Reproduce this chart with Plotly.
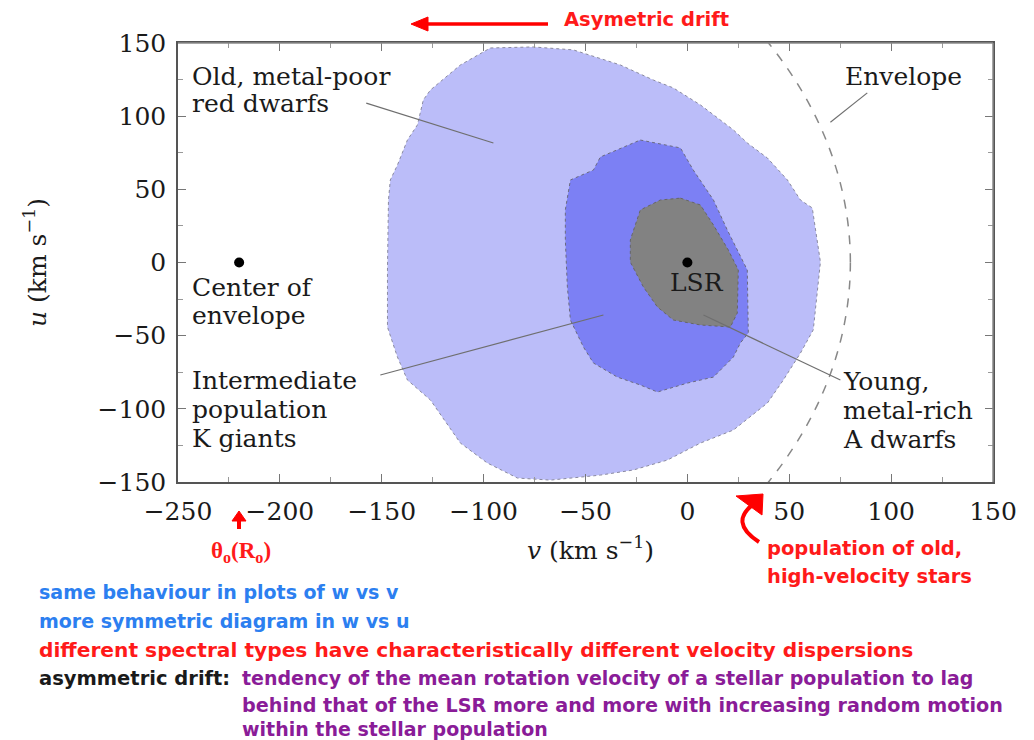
import plotly.graph_objects as go

# ---------------- data (v, u in km/s) ----------------
outer_v = [-96.7, -75.6, -56.0, -32.9, -16.7, -6.9, 6.4, 22.6, 29.4, 39.3, 49.1, 55.5, 61.3, 63.8, 65.3,
           61.8, 55.5, 47.1, 39.3, 22.6, 6.4, -9.8, -26.5, -42.7, -67.2, -83.4, -98.2, -111.4, -122.7,
           -126.1, -137.4, -142.3, -147.2, -147.2, -146.7, -145.8, -142.3, -137.4, -132.5, -129.6, -126.1,
           -111.4, -96.7]
outer_u = [146.6, 147.3, 145.3, 135.0, 124.7, 119.3, 107.7, 90.6, 81.7, 71.4, 56.4, 42.7, 37.3, 15.4, 0.3,
           -46.0, -61.9, -80.3, -96.0, -114.5, -123.4, -135.0, -141.8, -145.3, -148.7, -147.3, -137.0, -123.4,
           -100.8, -94.0, -80.3, -64.6, -44.1, -5.1, 42.7, 56.4, 66.6, 83.7, 94.0, 111.1, 117.9, 135.0, 146.6]

mid_v = [-23.1, -3.4, 2.9, 12.8, 19.6, 29.4, 29.9, 26.0, 22.6, 12.8, 0.0, -14.7, -23.1, -34.4, -46.1,
         -51.0, -57.4, -58.9, -59.9, -59.9, -57.4, -46.1, -42.7, -23.1]
mid_u = [83.7, 78.3, 63.2, 42.7, 22.2, -5.1, -48.2, -55.0, -64.6, -78.3, -82.4, -88.5, -83.7, -78.3, -68.7,
         -57.8, -39.3, -16.7, 15.4, 35.9, 56.4, 63.2, 72.1, 83.7]

inner_v = [-3.4, 6.4, 12.8, 20.1, 25.0, 24.5, 21.1, 6.4, -6.9, -14.7, -21.6, -28.0, -28.0, -23.1, -13.3, -3.4]
inner_u = [44.0, 39.3, 25.6, 8.5, -5.1, -34.5, -44.1, -42.7, -39.3, -30.4, -16.7, 0.3, 15.4, 35.9, 42.7, 44.0]

dot_v = [-220, 0]          # centre of envelope, LSR
dot_u = [0, 0]

envelope_center_v = -220
envelope_center_u = 0
envelope_radius = 300

# leader lines: (v0, u0, v1, u1)
leader_lines = [
    (-157.6, 108.9, -95.2, 81.7),     # old metal-poor red dwarfs
    (88.3, 115.9, 70.2, 95.9),        # envelope
    (-150.7, -76.9, -41.2, -35.9),    # intermediate population
    (75.1, -80.3, 7.9, -35.9),        # young metal-rich A dwarfs
]

x_ticks = [-250, -200, -150, -100, -50, 0, 50, 100, 150]
y_ticks = [-150, -100, -50, 0, 50, 100, 150]

# ---------------- layout geometry ----------------
W, H = 1034, 740
L, R, T, B = 178, 993, 43, 482


def pxx(x):
    return (x - L) / (R - L)


def pxy(y):
    return (B - y) / (B - T)


SERIF = "DejaVu Serif"
COMIC = "DejaVu Sans"
NOTE = 19.5

fig = go.Figure()

fig.add_trace(go.Scatter(x=outer_v, y=outer_u, fill="toself", mode="lines",
                         fillcolor="#BBBDF9", line=dict(color="#8a8aa0", width=1, dash="dot"),
                         hoverinfo="skip", showlegend=False))
fig.add_trace(go.Scatter(x=mid_v, y=mid_u, fill="toself", mode="lines",
                         fillcolor="#7C80F4", line=dict(color="#6a6a80", width=1, dash="dot"),
                         hoverinfo="skip", showlegend=False))
fig.add_trace(go.Scatter(x=inner_v, y=inner_u, fill="toself", mode="lines",
                         fillcolor="#828282", line=dict(color="#666666", width=1, dash="dot"),
                         hoverinfo="skip", showlegend=False))
fig.add_trace(go.Scatter(x=dot_v, y=dot_u, mode="markers",
                         marker=dict(color="black", size=10), hoverinfo="skip", showlegend=False))

shapes = []
shapes.append(dict(type="circle", xref="x", yref="y",
                   x0=envelope_center_v - envelope_radius, x1=envelope_center_v + envelope_radius,
                   y0=envelope_center_u - envelope_radius, y1=envelope_center_u + envelope_radius,
                   line=dict(color="#888888", width=1.5, dash="dash")))
for v0, u0, v1, u1 in leader_lines:
    shapes.append(dict(type="line", xref="x", yref="y", x0=v0, y0=u0, x1=v1, y1=u1,
                       line=dict(color="#6f6f6f", width=1.2)))

# lighter top/right frame lines like the reference
shapes.append(dict(type="line", xref="paper", yref="paper", x0=0, y0=1, x1=1, y1=1,
                   line=dict(color="#8a8a8a", width=1.5)))
shapes.append(dict(type="line", xref="paper", yref="paper", x0=1, y0=0, x1=1, y1=1,
                   line=dict(color="#8a8a8a", width=1.5)))

RED_ARROW = "#FF0000"


def pshape(path, fill=None, width=4):
    d = dict(type="path", xref="paper", yref="paper", path=path,
             line=dict(color=RED_ARROW, width=width))
    if fill:
        d["fillcolor"] = fill
    shapes.append(d)


def P(x, y):
    return f"{pxx(x)},{pxy(y)}"


# curved red arrow (population of old high-velocity stars)
pshape(f"M {P(759, 542)} Q {P(728, 522)} {P(755, 503)}")
pshape(f"M {P(736, 496)} L {P(763, 494)} L {P(762, 515)} Z", fill=RED_ARROW, width=1)

# top arrow (asymmetric drift)
pshape(f"M {P(548, 24)} L {P(425, 24)}", width=3.5)
pshape(f"M {P(411, 24)} L {P(428, 17)} L {P(428, 31)} Z", fill=RED_ARROW, width=1)

# theta arrow
pshape(f"M {P(239, 529)} L {P(239, 518)}", width=4)
pshape(f"M {P(239, 511)} L {P(232, 521)} L {P(246, 521)} Z", fill=RED_ARROW, width=1)

annotations = []


def txt(x, y, s, size, color="#1a1a1a", family=SERIF, xanchor="left"):
    annotations.append(dict(x=pxx(x), y=pxy(y), xref="paper", yref="paper", text=s,
                            showarrow=False, xanchor=xanchor, yanchor="middle",
                            font=dict(family=family, size=size, color=color)))


# in-plot labels (pixel positions)
label_size = 25
for s, y in [("Old, metal-poor", 76), ("red dwarfs", 104)]:
    txt(190, y, s, label_size)
txt(843, 76, "Envelope", label_size)
for s, y in [("Center of", 287), ("envelope", 315)]:
    txt(190, y, s, label_size)
txt(697, 282, "LSR", label_size, xanchor="center")
for s, y in [("Intermediate", 380), ("population", 409), ("K giants", 438)]:
    txt(190, y, s, label_size)
for s, y in [("Young,", 381), ("metal-rich", 410), ("A dwarfs", 439)]:
    txt(841, y, s, label_size)

# axis titles
txt(590, 548, "<i>v</i> (km s<sup>−1</sup>)", 25, xanchor="center")
annotations.append(dict(x=pxx(35), y=pxy(263), xref="paper", yref="paper",
                        text="<i>u</i> (km s<sup>−1</sup>)", showarrow=False, textangle=-90,
                        xanchor="center", yanchor="middle",
                        font=dict(family=SERIF, size=25, color="#1a1a1a")))

RED = "#FF1A1A"
BLUE = "#2C7FF0"
PURPLE = "#8A1C98"

txt(562, 20, "<b>Asymetric drift</b>", NOTE, color=RED, family=COMIC)
txt(241, 552, "<b>θ<sub>o</sub>(R<sub>o</sub>)</b>", 23, color=RED, family="Liberation Serif",
    xanchor="center")

# population of old stars
txt(765, 548, "<b>population of old,</b>", NOTE, color=RED, family=COMIC)
txt(765, 576, "<b>high-velocity stars</b>", NOTE, color=RED, family=COMIC)

# bottom notes
txt(37, 592, "<b>same behaviour in plots of w vs v</b>", 19, color=BLUE, family=COMIC)
txt(37, 621, "<b>more symmetric diagram in w vs u</b>", 19, color=BLUE, family=COMIC)
txt(37, 650, "<b>different spectral types have characteristically different velocity dispersions</b>",
    20.2, color=RED, family=COMIC)
txt(37, 678, "<b>asymmetric drift:</b>", NOTE, color="#1a1a1a", family=COMIC)
txt(240, 678, "<b>tendency of the mean rotation velocity of a stellar population to lag</b>",
    19, color=PURPLE, family=COMIC)
txt(240, 705, "<b>behind that of the LSR more and more with increasing random motion</b>",
    19.2, color=PURPLE, family=COMIC)
txt(240, 729, "<b>within the stellar population</b>", 19, color=PURPLE, family=COMIC)

axis_common = dict(showgrid=False, zeroline=False, showline=True, mirror="ticks",
                   linecolor="#555555", linewidth=1.5, ticks="inside", ticklen=8,
                   tickcolor="#777777", tickwidth=1,
                   tickfont=dict(family=SERIF, size=25, color="#1a1a1a"),
                   minor=dict(ticks="inside", ticklen=5, tickcolor="#999999", dtick=25))

fig.update_xaxes(range=[-250, 150], tickvals=x_ticks, ticklabelstandoff=6, **axis_common)
fig.update_yaxes(range=[-150, 150], tickvals=y_ticks, ticklabelstandoff=5, **axis_common)

fig.update_layout(width=W, height=H, margin=dict(l=L, r=W - R, t=T, b=H - B),
                  plot_bgcolor="white", paper_bgcolor="white",
                  shapes=shapes, annotations=annotations, showlegend=False)

fig.write_html("out.html", config={"displayModeBar": False},
               post_script="document.body.style.margin='0px';")
